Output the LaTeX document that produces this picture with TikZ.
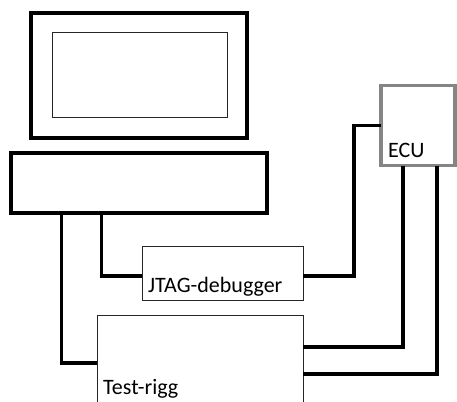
\documentclass[tikz,border=0pt]{standalone}
\usepackage{fontspec}
\setmainfont{Carlito}
\begin{document}
\begin{tikzpicture}[x=1pt,y=-1pt,
  thickbox/.style={draw=black,line width=3.6pt,minimum width=#1,inner sep=0pt,outer sep=0pt},
  thinbox/.style={draw=black!85,line width=1pt,inner sep=0pt,outer sep=0pt},
  ecubox/.style={draw=black!48,line width=3.6pt,inner sep=0pt,outer sep=0pt,minimum width=74pt,minimum height=80pt},
  conn/.style={line width=3.7pt,line join=miter},
  lbl/.style={anchor=base west,inner sep=0pt,font=\fontsize{22}{26}\selectfont}]
\useasboundingbox (0,0) rectangle (457,401);
\clip (0,0) rectangle (457,401);
% monitor
\node[thickbox=216pt,minimum height=125pt] (mon) at (139,75.5) {};
\node[thinbox,minimum width=175pt,minimum height=84pt] (scr) at (139.5,75) {};
% base unit
\node[thickbox=256pt,minimum height=60pt] (base) at (139,183) {};
% JTAG debugger
\node[thinbox,minimum width=161pt,minimum height=54pt] (jtag) at (222.5,273) {};
\node[lbl] (jtagl) at (148,292) {JTAG-debugger};
% Test rig
\node[thinbox,minimum width=206pt,minimum height=105pt] (test) at (200,367.5) {};
\node[lbl] (testl) at (103,394) {Test-rigg};
% ECU
\node[ecubox] (ecu) at (418,125.5) {};
\node[lbl] (ecul) at (388,157) {ECU};
% connectors
\coordinate (b1) at (61.5,363);
\coordinate (b2) at (101.5,276);
\coordinate (j1) at (354,276);
\coordinate (t1) at (402.7,347);
\coordinate (t2) at (437.3,374.3);
\draw[conn] (base.south -| b1) |- (test.west |- b1);
\draw[conn] (base.south -| b2) |- (jtag.west |- b2);
\draw[conn] (ecu.west) -| (j1) -- (jtag.east |- j1);
\draw[conn] (ecu.south -| t1) |- (test.east |- t1);
\draw[conn] (ecu.south -| t2) |- (test.east |- t2);
\end{tikzpicture}
\end{document}
